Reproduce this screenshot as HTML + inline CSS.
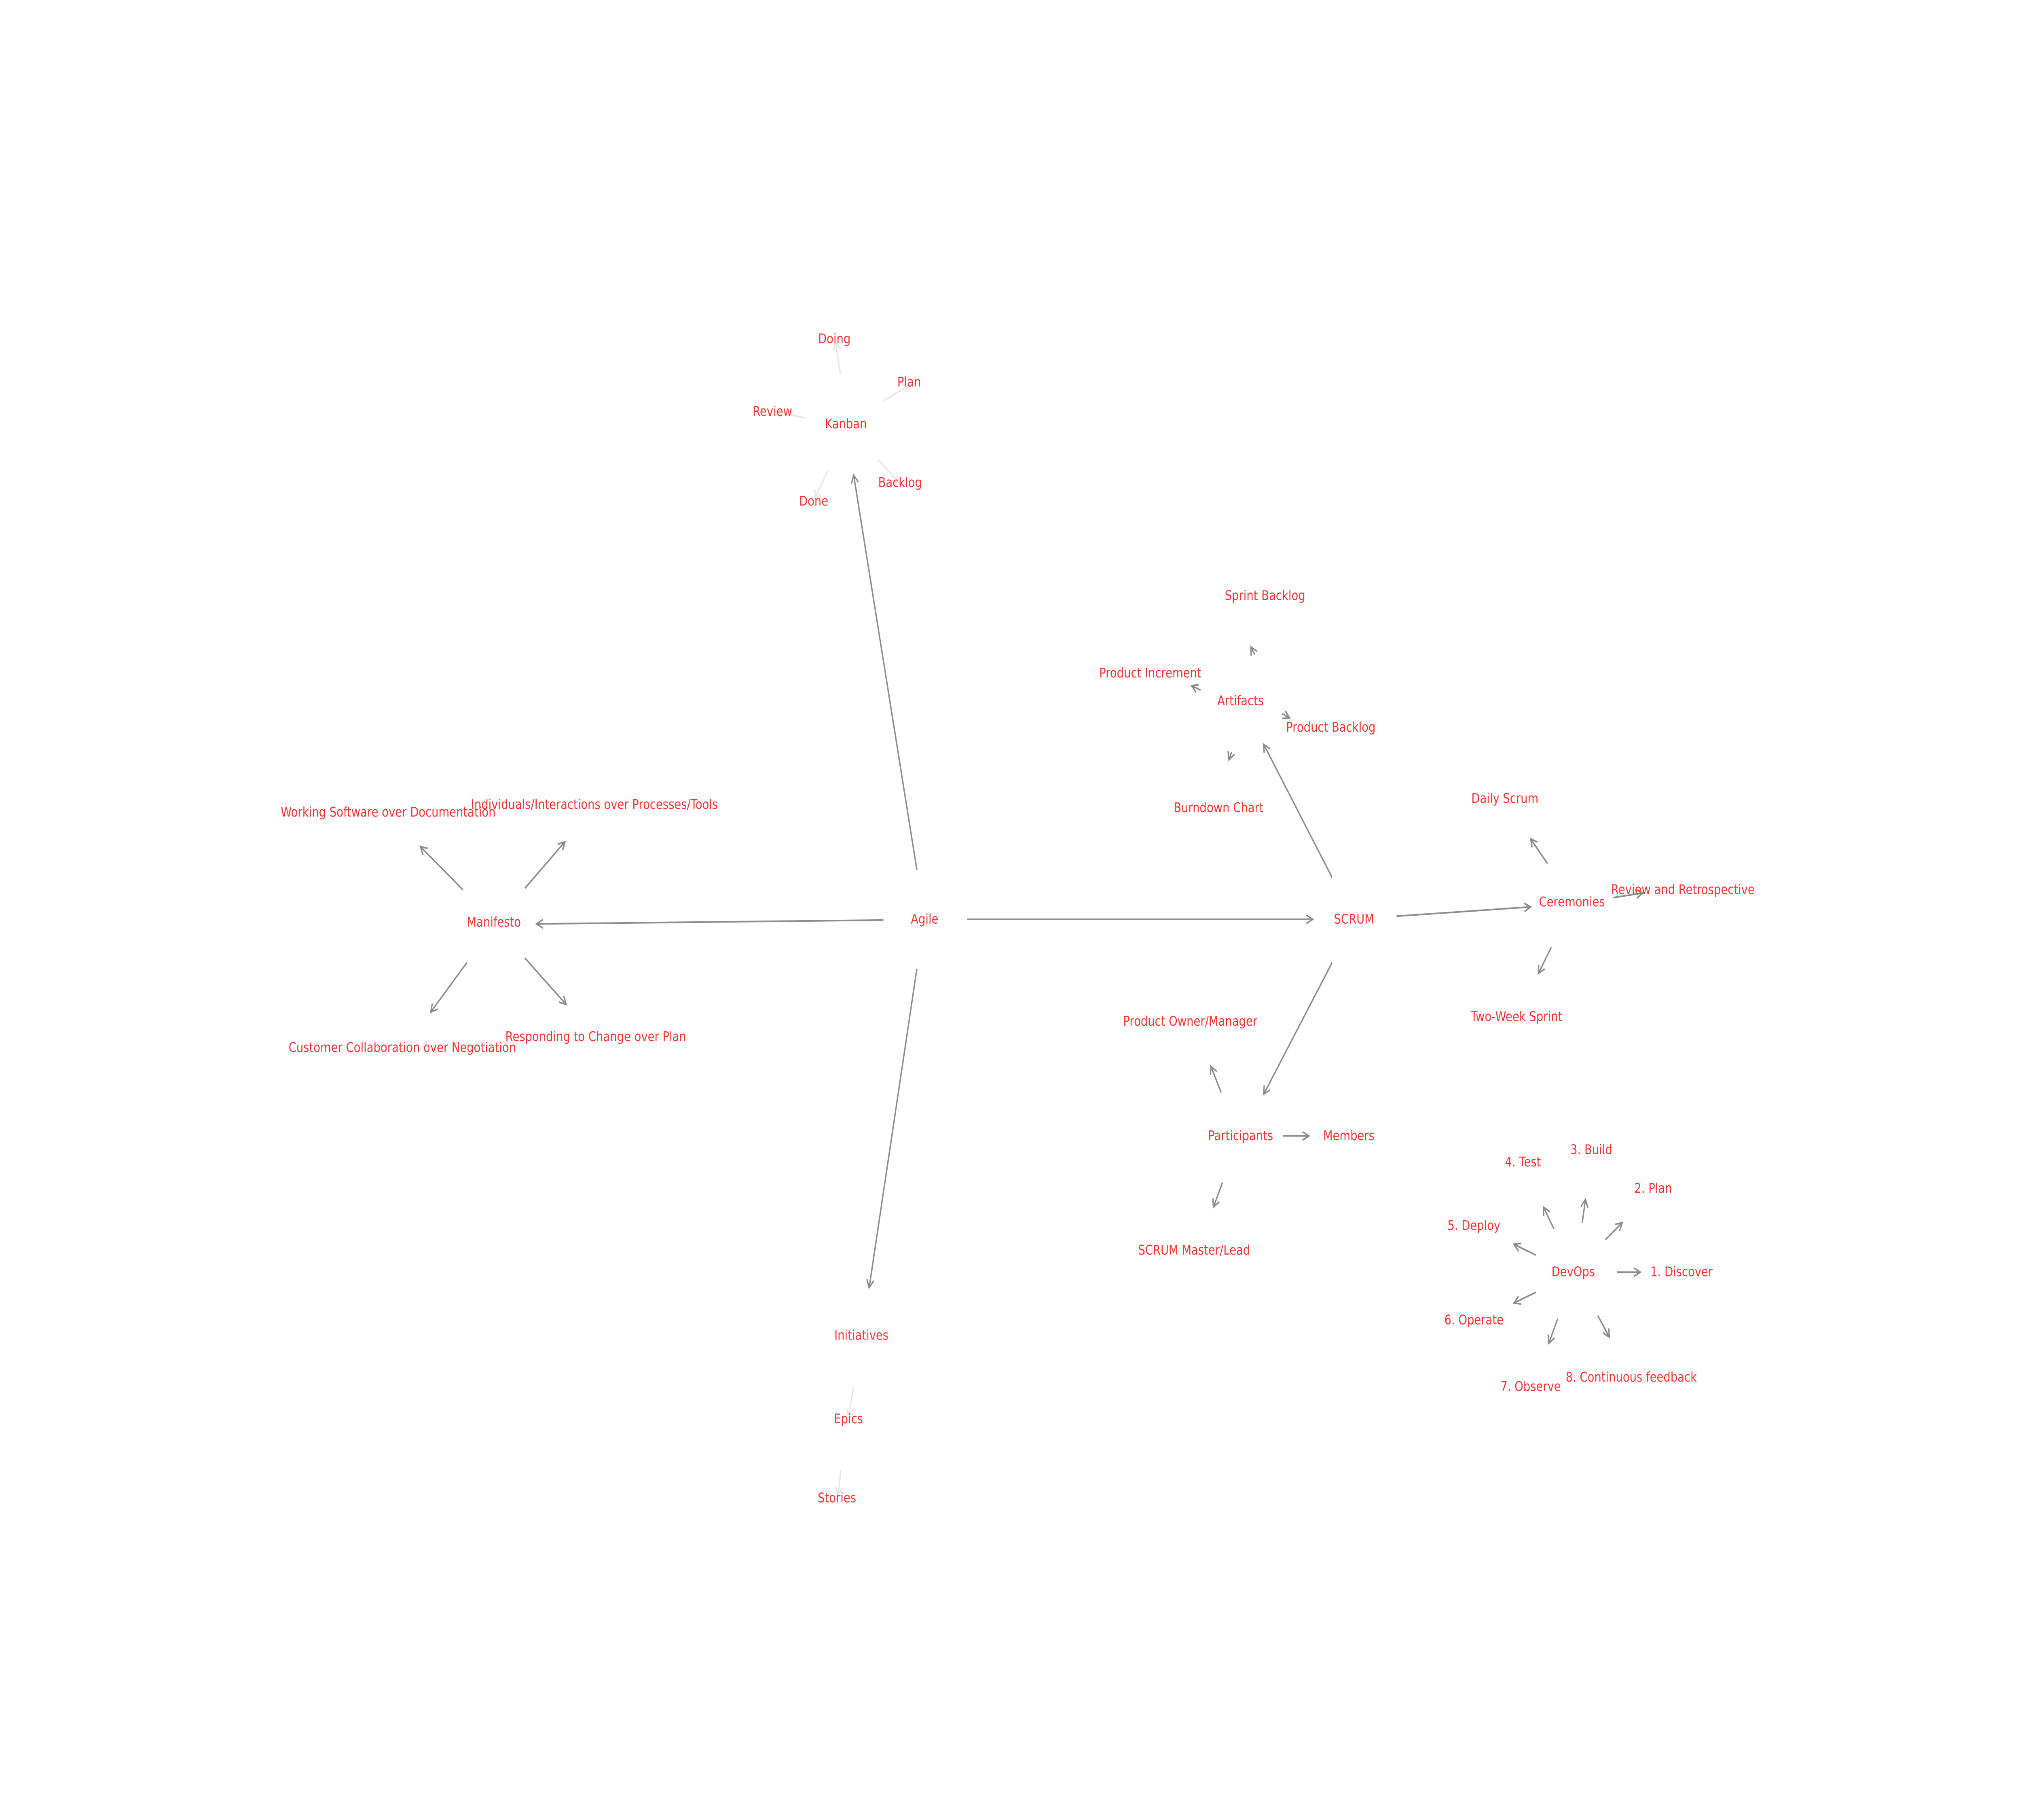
<!DOCTYPE html>
<html><head><meta charset="utf-8"><style>
html,body{margin:0;padding:0;background:#fff;overflow:hidden;width:100%;height:100%;}
svg{display:block;width:100vw;height:100vh;}
text{font-family:"DejaVu Sans","Liberation Sans",sans-serif;font-size:8.6px;fill:#ff3333;text-anchor:middle;dominant-baseline:central;}
.d{stroke:#8c8c8c;stroke-width:1.05;fill:none;marker-end:url(#ad);}
.l{stroke:#e6e6e6;stroke-width:1.05;fill:none;marker-end:url(#al);}
</style></head><body>
<svg viewBox="0 0 1568 1176" preserveAspectRatio="none" xmlns="http://www.w3.org/2000/svg">
<defs>
<marker id="ad" markerUnits="userSpaceOnUse" markerWidth="8" markerHeight="8" refX="6" refY="4" orient="auto"><path d="M1,1.3 L6,4 L1,6.7" fill="none" stroke="#8c8c8c" stroke-width="1.05"/></marker>
<marker id="al" markerUnits="userSpaceOnUse" markerWidth="8" markerHeight="8" refX="6" refY="4" orient="auto"><path d="M1,1.3 L6,4 L1,6.7" fill="none" stroke="#e6e6e6" stroke-width="1.05"/></marker>
</defs>
<line class="d" x1="750" y1="594" x2="1018" y2="594"/>
<line class="d" x1="685" y1="594.5" x2="416" y2="597"/>
<line class="d" x1="711" y1="562" x2="662" y2="307"/>
<line class="d" x1="711" y1="626" x2="674" y2="832"/>
<line class="d" x1="1033" y1="567" x2="980" y2="481"/>
<line class="d" x1="1083" y1="592" x2="1187" y2="586"/>
<line class="d" x1="1033" y1="622" x2="980" y2="707"/>
<line class="d" x1="359" y1="575" x2="326" y2="547"/>
<line class="d" x1="407" y1="574" x2="438" y2="544"/>
<line class="d" x1="362" y1="622" x2="334" y2="654"/>
<line class="d" x1="407" y1="619" x2="439" y2="649"/>
<line class="d" x1="973" y1="423" x2="970" y2="418"/>
<line class="d" x1="931" y1="446" x2="924" y2="443"/>
<line class="d" x1="994" y1="461" x2="1000" y2="464"/>
<line class="d" x1="955" y1="486" x2="953" y2="491"/>
<line class="d" x1="1200" y1="558" x2="1187" y2="542"/>
<line class="d" x1="1251" y1="580" x2="1274" y2="577"/>
<line class="d" x1="1203" y1="612" x2="1193" y2="629"/>
<line class="d" x1="947" y1="706" x2="939" y2="689"/>
<line class="d" x1="995" y1="734" x2="1015" y2="734"/>
<line class="d" x1="948" y1="764" x2="941" y2="780"/>
<line class="d" x1="1254" y1="822" x2="1272" y2="822"/>
<line class="d" x1="1245" y1="801" x2="1258" y2="790"/>
<line class="d" x1="1227" y1="790" x2="1229.5" y2="775"/>
<line class="d" x1="1205" y1="794" x2="1197" y2="780"/>
<line class="d" x1="1191" y1="811" x2="1174" y2="804"/>
<line class="d" x1="1191" y1="835" x2="1174" y2="842"/>
<line class="d" x1="1208" y1="852" x2="1201" y2="868"/>
<line class="d" x1="1239" y1="850" x2="1248" y2="864"/>
<line class="l" x1="651.7" y1="242" x2="648" y2="221"/>
<line class="l" x1="685" y1="259" x2="705" y2="249"/>
<line class="l" x1="624" y1="270" x2="601" y2="266"/>
<line class="l" x1="681" y1="297" x2="697" y2="312"/>
<line class="l" x1="642" y1="304" x2="632" y2="322"/>
<line class="l" x1="662" y1="896" x2="658" y2="915"/>
<line class="l" x1="652" y1="950" x2="650" y2="966"/>
<text x="717" y="594">Agile</text>
<text x="1050" y="594">SCRUM</text>
<text x="383" y="596">Manifesto</text>
<text x="656" y="274">Kanban</text>
<text x="668" y="863">Initiatives</text>
<text x="658" y="917">Epics</text>
<text x="649" y="968">Stories</text>
<text x="647" y="219">Doing</text>
<text x="705" y="247">Plan</text>
<text x="599" y="266">Review</text>
<text x="698" y="312">Backlog</text>
<text x="631" y="324">Done</text>
<text x="962" y="453">Artifacts</text>
<text x="981" y="385">Sprint Backlog</text>
<text x="892" y="435">Product Increment</text>
<text x="1032" y="470">Product Backlog</text>
<text x="945" y="522">Burndown Chart</text>
<text x="1219" y="583">Ceremonies</text>
<text x="1167" y="516">Daily Scrum</text>
<text x="1305" y="575">Review and Retrospective</text>
<text x="1176" y="657">Two-Week Sprint</text>
<text x="962" y="734">Participants</text>
<text x="923" y="660">Product Owner/Manager</text>
<text x="1046" y="734">Members</text>
<text x="926" y="808">SCRUM Master/Lead</text>
<text x="1220" y="822">DevOps</text>
<text x="1304" y="822">1. Discover</text>
<text x="1282" y="768">2. Plan</text>
<text x="1234" y="743">3. Build</text>
<text x="1181" y="751">4. Test</text>
<text x="1143" y="792">5. Deploy</text>
<text x="1143" y="853">6. Operate</text>
<text x="1187" y="896">7. Observe</text>
<text x="1265" y="890">8. Continuous feedback</text>
<text x="301" y="525">Working Software over Documentation</text>
<text x="461" y="520">Individuals/Interactions over Processes/Tools</text>
<text x="312" y="677">Customer Collaboration over Negotiation</text>
<text x="462" y="670">Responding to Change over Plan</text>
</svg>
</body></html>
